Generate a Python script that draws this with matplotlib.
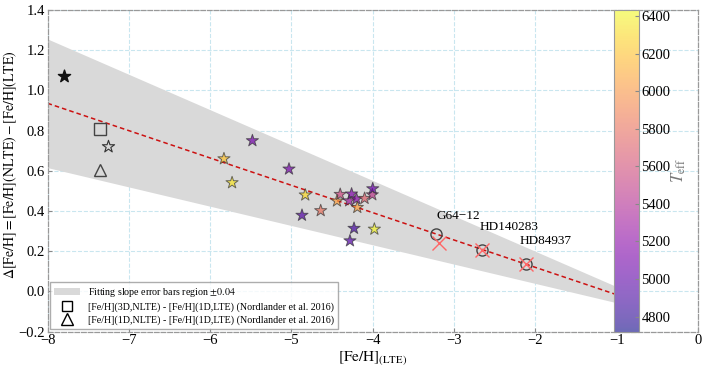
import matplotlib
matplotlib.use("Agg")
import matplotlib.pyplot as plt
import numpy as np
from matplotlib import cm, colors
from matplotlib.patches import Patch
from matplotlib.lines import Line2D

plt.rcParams['font.family'] = ['Liberation Serif', 'DejaVu Serif']
plt.rcParams['mathtext.fontset'] = 'stix'

# Data
star_feh = [-5.48, -5.83, -5.73, -5.03, -4.83, -4.87, -4.64, -4.44, -4.40, -4.29,
            -4.26, -4.20, -4.19, -4.10, -4.005, -4.00, -4.23, -4.28, -3.98]
star_dfeh = [0.750, 0.660, 0.541, 0.609, 0.480, 0.379, 0.402, 0.450, 0.483, 0.451,
             0.485, 0.460, 0.418, 0.463, 0.481, 0.511, 0.314, 0.252, 0.310]
star_teff = [5100, 6200, 6350, 5100, 6300, 4950, 5800, 6050, 5550, 5300,
             5150, 5200, 6050, 5700, 5450, 5050, 4900, 4950, 6400]

black_star = (-7.80, 1.07)
open_star = (-7.25, 0.72)
nord_3d = (-7.35, 0.81)
nord_1d = (-7.35, 0.605)

bench_names = ['G64\u221212', 'HD140283', 'HD84937']
bench_feh = [-3.22, -2.66, -2.12]
bench_circle = [0.284, 0.208, 0.135]
bench_x_feh = [-3.19, -2.66, -2.12]
bench_x_val = [0.239, 0.208, 0.135]
label_pos = [(-3.22, 0.345), (-2.68, 0.29), (-2.19, 0.22)]

fit_slope = -0.136
fit_intercept = -0.152
slope_err = 0.04
fit_range = [-8.0, -1.0]

teff_min, teff_max = 4720, 6432
cbar_ticks = [4800, 5000, 5200, 5400, 5600, 5800, 6000, 6200, 6400]

fig = plt.figure(figsize=(7.05, 3.67), dpi=100)
ax = fig.add_axes([0.0674, 0.0962, 0.9226, 0.8766])

xx = np.linspace(fit_range[0], fit_range[1], 50)
yfit = fit_slope * xx + fit_intercept
yup = (fit_slope - slope_err) * xx + fit_intercept
ylo = (fit_slope + slope_err) * xx + fit_intercept
ax.fill_between(xx, ylo, yup, color='#d9d9d9', lw=0, zorder=1)
ax.plot(xx, yfit, ls='--', color='#cc1111', lw=1.1, zorder=2, dashes=(3, 2))

cmap = plt.get_cmap('plasma')
norm = colors.Normalize(vmin=teff_min, vmax=teff_max)
ax.scatter(star_feh, star_dfeh, c=star_teff, cmap=cmap, norm=norm, marker='*',
           s=85, edgecolors='#333333', linewidths=0.7, alpha=0.7, zorder=4)
ax.scatter([black_star[0]], [black_star[1]], marker='*', s=85, color='#111111', zorder=4)
ax.scatter([open_star[0]], [open_star[1]], marker='*', s=85, facecolors='none',
           edgecolors='#333333', linewidths=0.8, zorder=4)
ax.plot([nord_3d[0]], [nord_3d[1]], marker='s', ms=8, mfc='none', mec='#444444', mew=1.0, zorder=4)
ax.plot([nord_1d[0]], [nord_1d[1]], marker='^', ms=9, mfc='none', mec='#444444', mew=1.0, zorder=4)

ax.plot(bench_feh, bench_circle, 'o', ms=8, mfc='none', mec='#444444', mew=1.0, zorder=5, ls='none')
ax.plot(bench_x_feh, bench_x_val, 'x', ms=10, color='#ff6666', mew=1.0, zorder=5, ls='none')
for name, (tx, ty) in zip(bench_names, label_pos):
    ax.text(tx, ty, name, fontsize=9.5, ha='left', va='bottom', zorder=6)

ax.set_xlim(-8, 0)
ax.set_ylim(-0.2, 1.4)
ax.set_xticks(np.arange(-8, 1, 1))
ax.set_yticks(np.arange(-0.2, 1.41, 0.2))
ax.set_xticklabels(['\u22128', '\u22127', '\u22126', '\u22125', '\u22124', '\u22123', '\u22122', '\u22121', '0'])
ax.set_yticklabels(['\u22120.2', '0.0', '0.2', '0.4', '0.6', '0.8', '1.0', '1.2', '1.4'])
ax.tick_params(direction='in', labelsize=10.5, length=3, color='#888888', pad=2)
ax.grid(True, ls='--', color='#c9e6ef', lw=0.8)
ax.set_axisbelow(True)
for sp in ax.spines.values():
    sp.set_linestyle('--')
    sp.set_color('#999999')
    sp.set_linewidth(0.9)

ax.set_xlabel(r'$[\mathrm{Fe/H}]_{\mathrm{(LTE)}}$', fontsize=11, labelpad=1)
ax.set_ylabel(r'$\Delta[\mathrm{Fe/H}] = [\mathrm{Fe/H}](\mathrm{NLTE}) - [\mathrm{Fe/H}](\mathrm{LTE})$',
              fontsize=10)
ax.yaxis.set_label_coords(-0.044, 0.518)

handles = [Patch(facecolor='#d9d9d9', edgecolor='none'),
           Line2D([], [], marker='s', ms=7, mfc='none', mec='black', ls='none'),
           Line2D([], [], marker='^', ms=8, mfc='none', mec='black', ls='none')]
labels = [r'Fitting slope error bars region $\pm 0.04$',
          '[Fe/H](3D,NLTE) - [Fe/H](1D,LTE) (Nordlander et al. 2016)',
          '[Fe/H](1D,NLTE) - [Fe/H](1D,LTE) (Nordlander et al. 2016)']
leg = ax.legend(handles, labels, loc='lower left', fontsize=7.2, frameon=True, fancybox=False,
                borderaxespad=0.25, handlelength=2.6, labelspacing=0.35)
leg.get_frame().set_edgecolor('#999999')
leg.set_zorder(7)

cax = fig.add_axes([0.871, 0.0962, 0.035, 0.8766])
sm = cm.ScalarMappable(norm=norm, cmap=cmap)
cb = fig.colorbar(sm, cax=cax, ticks=cbar_ticks, alpha=0.6)
cb.outline.set_edgecolor('#999999')
cax.tick_params(labelsize=10.5, direction='in', length=3, color='#888888', pad=2)
cb.set_label(r'$T_{\mathrm{eff}}$', color='#777777', fontsize=12, labelpad=-1)

fig.savefig('out.png', dpi=100)
